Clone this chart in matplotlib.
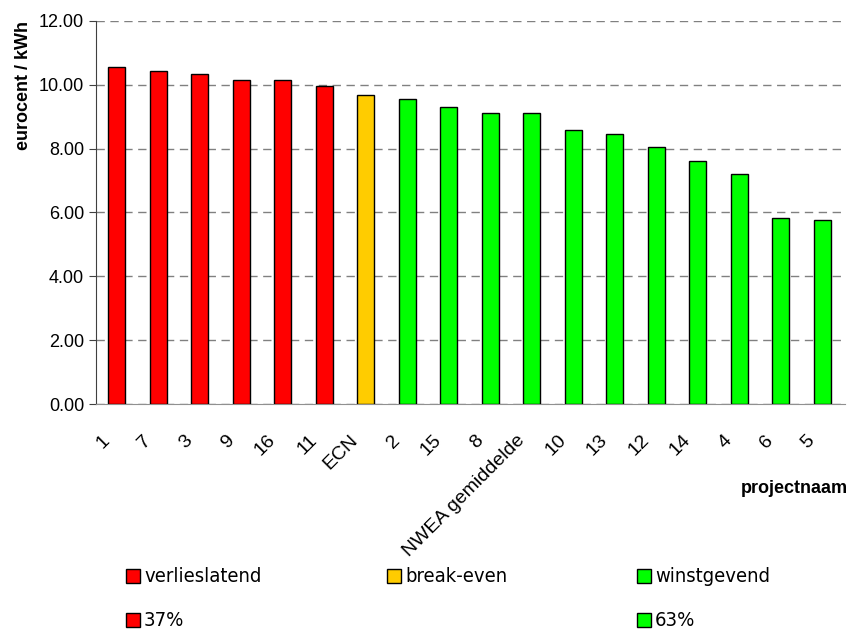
import matplotlib.pyplot as plt
from matplotlib.patches import Rectangle
from matplotlib.ticker import FormatStrFormatter, MultipleLocator
from matplotlib.transforms import ScaledTranslation

plt.rcParams['font.family'] = ['Liberation Sans', 'DejaVu Sans']

# projecten, gesorteerd op kostprijs
projects = ['1', '7', '3', '9', '16', '11', 'ECN', '2', '15', '8',
            'NWEA gemiddelde', '10', '13', '12', '14', '4', '6', '5']
cost = [10.56, 10.44, 10.35, 10.16, 10.16, 9.96, 9.68, 9.55, 9.31, 9.12,
        9.12, 8.59, 8.46, 8.06, 7.61, 7.21, 5.82, 5.78]
status = ['v'] * 6 + ['b'] + ['w'] * 11

colors = {'v': '#ff0000', 'b': '#ffcc00', 'w': '#00ff00'}
legend_labels = ['verlieslatend', 'break-even', 'winstgevend', '37%', '63%']
legend_status = ['v', 'b', 'w', 'v', 'w']

fig = plt.figure(figsize=(8.51, 6.30), dpi=100)
ax = fig.add_axes([0.1128, 0.3587, 0.8802, 0.608])

x = list(range(len(projects)))
ax.bar(x, cost, width=0.41, color=[colors[s] for s in status],
       edgecolor='black', linewidth=1.0, zorder=3)

ax.set_ylim(0, 12)
ax.set_xlim(-0.5, len(projects) - 0.45)
ax.yaxis.set_major_locator(MultipleLocator(2))
ax.yaxis.set_major_formatter(FormatStrFormatter('%.2f'))
ax.grid(axis='y', color='#808080', linestyle=(0, (6, 4)), linewidth=1.0, zorder=0)

for side in ['top', 'right']:
    ax.spines[side].set_visible(False)
ax.spines['left'].set_color('#404040')
ax.spines['bottom'].set_color('#909090')

ax.tick_params(axis='y', direction='out', length=5, labelsize=13, color='#404040')
ax.set_xticks(x)
ax.set_xticklabels(projects, rotation=45, ha='right', rotation_mode='anchor', fontsize=14)
ax.tick_params(axis='x', length=0, pad=20)
shift = ScaledTranslation(-16 / 100, 0, fig.dpi_scale_trans)
for lbl in ax.get_xticklabels():
    lbl.set_transform(lbl.get_transform() + shift)

ax.set_ylabel('eurocent / kWh', fontweight='bold', fontsize=13, loc='top', labelpad=5)
fig.text(0.996, 0.224, 'projectnaam', fontweight='bold', fontsize=13, ha='right', va='center')

# legenda
leg_pos = [(126, 576), (387, 576), (637, 576), (126, 620), (637, 620)]
for (px, py), lab, s in zip(leg_pos, legend_labels, legend_status):
    fx, fy = px / 851, 1 - py / 630
    fig.add_artist(Rectangle((fx, fy - 7 / 630), 14 / 851, 14 / 630,
                             transform=fig.transFigure, facecolor=colors[s],
                             edgecolor='black', linewidth=1.0))
    fig.text(fx + 18 / 851, fy, lab, fontsize=14.5, ha='left', va='center',
             family='DejaVu Sans', fontstretch='condensed')

fig.savefig('out.png', dpi=100)
